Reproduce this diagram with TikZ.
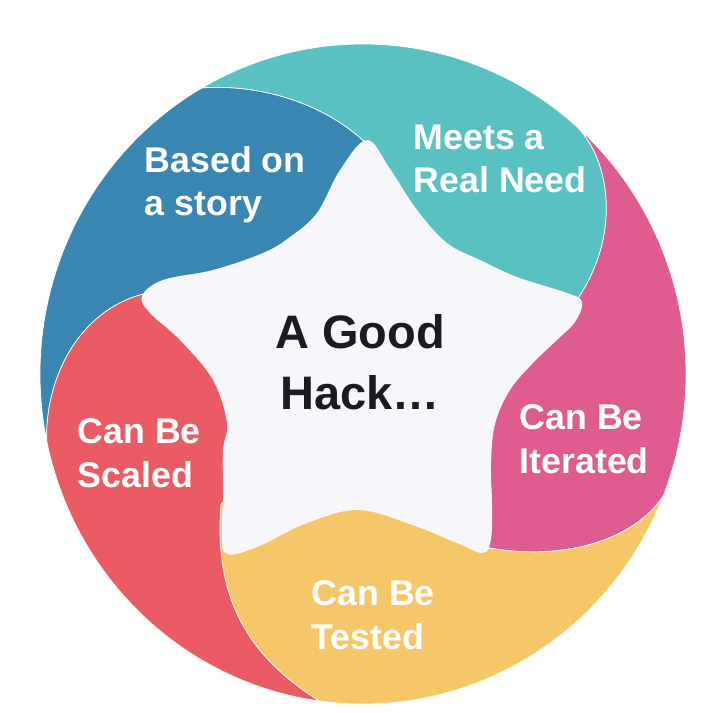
\documentclass[tikz,border=0pt]{standalone}
\usepackage{fontspec}
\setmainfont{Liberation Sans}

\definecolor{storyblue}{RGB}{58,134,178}
\definecolor{needteal}{RGB}{90,193,195}
\definecolor{iterpink}{RGB}{222,92,143}
\definecolor{testyellow}{RGB}{245,199,104}
\definecolor{scalered}{RGB}{234,91,99}
\definecolor{starwhite}{RGB}{247,246,250}
\definecolor{hackblack}{RGB}{28,28,30}

\tikzset{
	petal/.style={draw=white, line width=0.5pt},
	petallabel/.style={text=white, inner sep=0pt, anchor=base west, align=left,
		font=\bfseries\fontsize{25.4}{30.6}\selectfont},
	centrelabel/.style={text=hackblack, inner sep=0pt, anchor=base, align=center,
		font=\bfseries\fontsize{33.4}{43.4}\selectfont}
}

\begin{document}
\begin{tikzpicture}[scale=0.025]
				\useasboundingbox (-363,-338) rectangle (355,374);
				% five swirl segments
				\draw [petal, fill=storyblue] (-210,82) .. controls (-280,70) and (-318,0) .. (-168.3:323 and 330) arc [start angle=191.7, end angle=119.9, x radius=323, y radius=330] .. controls (-110,290) and (-40,275) .. (8,226) -- (0,0) -- cycle;
				\draw [petal, fill=needteal] (8,226) .. controls (-40,275) and (-110,290) .. (119.9:323 and 330) arc [start angle=119.9, end angle=48.3, x radius=323, y radius=330] .. controls (250,210) and (258,130) .. (208,66) -- (0,0) -- cycle;
				\draw [petal, fill=iterpink] (208,66) .. controls (258,130) and (250,210) .. (48.3:323 and 330) arc [start angle=48.3, end angle=-21.8, x radius=323, y radius=330] .. controls (272,-165) and (200,-190) .. (116,-172) -- (0,0) -- cycle;
				\draw [petal, fill=testyellow] (116,-172) .. controls (200,-190) and (272,-165) .. (-21.8:323 and 330) arc [start angle=-21.8, end angle=-97.8, x radius=323, y radius=330] .. controls (-110,-285) and (-150,-230) .. (-142,-130) -- (0,0) -- cycle;
				\draw [petal, fill=scalered] (-142,-130) .. controls (-150,-230) and (-110,-285) .. (-97.8:323 and 330) arc [start angle=-97.8, end angle=-168.3, x radius=323, y radius=330] .. controls (-318,0) and (-280,70) .. (-210,82) -- (0,0) -- cycle;
				% the star
				\fill [starwhite] plot [smooth cycle, tension=0.6] coordinates {(4,234) (27,205) (54,164) (84,131) (117,114) (154,97) (204,81) (219,72) (212,52) (195,35) (170,11) (147,-16) (132,-50) (128,-90) (129,-130) (128,-165) (120,-179) (94,-169) (44,-149) (-6,-136) (-56,-149) (-106,-173) (-136,-180) (-141,-160) (-140,-126) (-140,-76) (-136,-49) (-150,-6) (-183,34) (-213,61) (-221,78) (-200,94) (-150,104) (-100,121) (-73,137) (-46,161) (-23,204)};
				% labels (base = last line)
				\node [petallabel] (story) at (-218.5,158) {Based on\\a story};
				\node [petallabel] (need) at (50.5,181) {Meets a\\Real Need};
				\node [petallabel] (iterated) at (156.5,-99) {Can Be\\Iterated};
				\node [petallabel] (tested) at (-51.5,-275) {Can Be\\Tested};
				\node [petallabel] (scaled) at (-285.5,-113) {Can Be\\Scaled};
				\node [centrelabel] (hack) at (-3,-36) {A Good\\Hack…};
			\end{tikzpicture}
\end{document}
